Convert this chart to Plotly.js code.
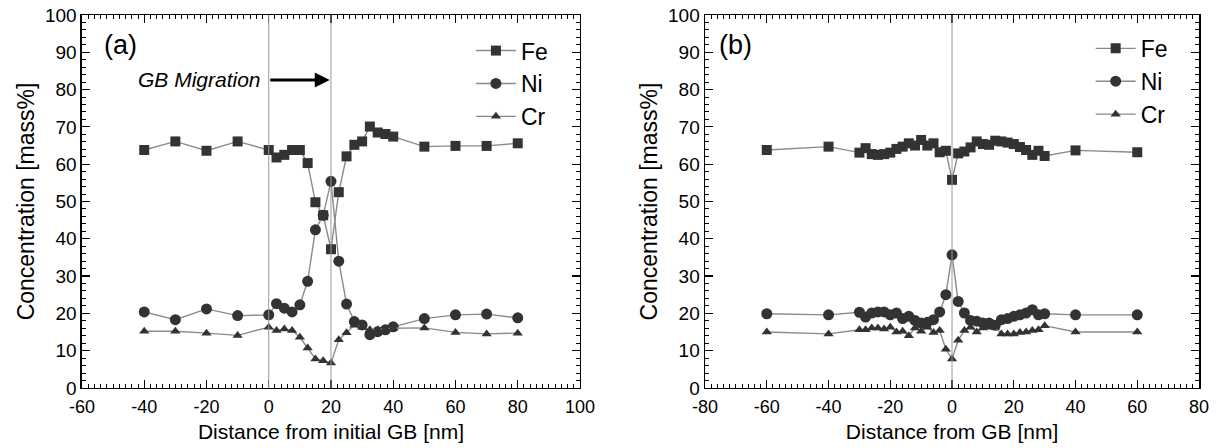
<!DOCTYPE html>
<html>
<head>
<meta charset="utf-8">
<script src="https://cdn.plot.ly/plotly-3.0.1.min.js"></script>
<style>
html,body{margin:0;padding:0;background:#fff;}
#chart{width:1220px;height:448px;}
</style>
</head>
<body>
<div id="chart"></div>
<script>
// ---------- Panel (a): distance from initial GB ----------
const xA = [-40, -30, -20, -10, 0, 2.5, 5, 7.5, 10, 12.5, 15, 17.5, 20, 22.5, 25, 27.5, 30, 32.5, 35, 37.5, 40, 50, 60, 70, 80];
const feA = [63.8, 66.1, 63.6, 66.1, 63.8, 61.8, 62.5, 63.8, 63.8, 60.3, 49.8, 46.3, 37.2, 52.5, 62.1, 65.2, 66.1, 70.1, 68.5, 68.1, 67.4, 64.7, 64.9, 64.9, 65.6];
const niA = [20.4, 18.3, 21.2, 19.4, 19.6, 22.6, 21.4, 20.4, 22.3, 28.6, 42.4, 46.3, 55.4, 34.0, 22.5, 17.8, 16.9, 14.3, 15.1, 15.6, 16.4, 18.6, 19.6, 19.8, 18.8];
const crA = [15.2, 15.2, 14.7, 14.1, 16.3, 15.4, 15.8, 15.4, 13.6, 10.7, 7.8, 7.3, 6.7, 12.9, 14.8, 16.8, 16.3, 15.6, 15.6, 15.8, 16.0, 16.1, 14.9, 14.5, 14.7];
const gbLinesA = [0, 20];

// ---------- Panel (b): distance from GB ----------
const xB = [-60, -40, -30, -28, -26, -24, -22, -20, -18, -16, -14, -12, -10, -8, -6, -4, -2, 0,
            2, 4, 6, 8, 10, 12, 14, 16, 18, 20, 22, 24, 26, 28, 30, 40, 60];
const feB = [63.8, 64.7, 63.1, 64.3, 62.7, 62.5, 62.7, 63.1, 64.1, 64.7, 65.6, 65.0, 66.5, 65.0, 65.6, 63.2, 63.6, 55.8,
             62.9, 63.4, 64.5, 66.1, 65.4, 65.2, 66.3, 66.1, 65.8, 65.4, 64.6, 63.8, 62.5, 63.6, 62.2, 63.7, 63.2];
const niB = [19.9, 19.6, 20.3, 19.0, 20.1, 20.4, 20.4, 19.6, 20.1, 18.6, 19.2, 18.1, 17.4, 17.6, 18.3, 20.4, 25.0, 35.7,
             23.2, 20.1, 18.1, 17.9, 17.4, 17.4, 16.8, 18.3, 18.6, 19.2, 19.6, 20.1, 21.0, 19.6, 19.9, 19.6, 19.6];
const crB = [15.0, 14.5, 15.6, 15.6, 16.1, 16.1, 15.8, 16.3, 15.0, 15.2, 14.0, 16.1, 15.2, 16.3, 14.9, 15.4, 10.4, 7.8,
             12.8, 15.4, 16.3, 15.0, 16.1, 16.3, 16.3, 14.5, 14.5, 14.5, 14.9, 15.0, 15.4, 15.6, 16.7, 15.0, 15.0];
const gbLinesB = [0];

const seriesNames = ['Fe', 'Ni', 'Cr'];
const symbols = ['square', 'circle', 'triangle-up'];
const sizes = [10, 11, 9];

const FONT = '"Liberation Sans", Arial, Helvetica, sans-serif';
const markerColor = '#333333';
const lineColor = '#8a8a8a';

// show plain hyphen minus signs as in the original figure
const hyphenAlias = {'\u221220': '-20', '\u221240': '-40', '\u221260': '-60', '\u221280': '-80'};

function mk(x, y, i, xa, ya, leg) {
  return {
    x: x, y: y, name: seriesNames[i], type: 'scatter', mode: 'lines+markers',
    xaxis: xa, yaxis: ya, legend: leg,
    line: {color: lineColor, width: 1.4},
    marker: {symbol: symbols[i], size: sizes[i], color: markerColor}
  };
}

const traces = [
  mk(xA, feA, 0, 'x', 'y', 'legend'),
  mk(xA, niA, 1, 'x', 'y', 'legend'),
  mk(xA, crA, 2, 'x', 'y', 'legend'),
  mk(xB, feB, 0, 'x2', 'y2', 'legend2'),
  mk(xB, niB, 1, 'x2', 'y2', 'legend2'),
  mk(xB, crB, 2, 'x2', 'y2', 'legend2')
];

function xax(domain, range, title, anchor) {
  return {
    domain: domain, range: range, anchor: anchor, dtick: 20,
    ticks: 'inside', ticklen: 8, tickwidth: 1.2, tickcolor: '#000',
    minor: {dtick: 2, ticklen: 4, ticks: 'inside', tickcolor: '#000', tickwidth: 1},
    showline: true, linecolor: '#000', linewidth: 1.5, mirror: 'ticks',
    showgrid: false, zeroline: false,
    labelalias: hyphenAlias,
    ticklabelstandoff: 2,
    tickfont: {family: FONT, size: 18, color: '#000'},
    title: {text: title, font: {family: FONT, size: 21, color: '#000'}, standoff: 8}
  };
}
function yax(domain, anchor) {
  return {
    domain: domain, range: [0, 100], anchor: anchor, dtick: 10,
    ticks: 'inside', ticklen: 8, tickwidth: 1.2, tickcolor: '#000',
    minor: {dtick: 2, ticklen: 4, ticks: 'inside', tickcolor: '#000', tickwidth: 1},
    showline: true, linecolor: '#000', linewidth: 1.5, mirror: 'ticks',
    showgrid: false, zeroline: false,
    ticklabelstandoff: 0,
    tickfont: {family: FONT, size: 19, color: '#000'},
    title: {text: 'Concentration [mass%]', font: {family: FONT, size: 23, color: '#000'}, standoff: 4}
  };
}

const yDom = [0.134, 0.9665];

const shapes = [];
gbLinesA.forEach(v => shapes.push({type: 'line', xref: 'x', yref: 'y domain', x0: v, x1: v, y0: 0, y1: 1,
  line: {color: '#9a9a9a', width: 1}}));
gbLinesB.forEach(v => shapes.push({type: 'line', xref: 'x2', yref: 'y2 domain', x0: v, x1: v, y0: 0, y1: 1,
  line: {color: '#9a9a9a', width: 1}}));

const legendStyle = {
  font: {family: FONT, size: 23, color: '#000'}, bgcolor: 'rgba(0,0,0,0)',
  xanchor: 'left', yanchor: 'top', tracegroupgap: 0, itemwidth: 40
};

const layout = {
  width: 1220, height: 448,
  margin: {l: 0, r: 0, t: 0, b: 0},
  paper_bgcolor: '#fff', plot_bgcolor: '#fff',
  font: {family: FONT, color: '#000'},
  xaxis: xax([0.0672, 0.4754], [-60, 100], 'Distance from initial GB [nm]', 'y'),
  yaxis: yax(yDom, 'x'),
  xaxis2: xax([0.5779, 0.9828], [-80, 80], 'Distance from GB [nm]', 'y2'),
  yaxis2: yax(yDom, 'x2'),
  showlegend: true,
  legend: Object.assign({x: 0.386, y: 0.935}, legendStyle),
  legend2: Object.assign({x: 0.894, y: 0.94}, legendStyle),
  shapes: shapes,
  annotations: [
    {text: '(a)', xref: 'x domain', yref: 'y domain', x: 0.04, y: 0.92, xanchor: 'left', yanchor: 'middle',
     showarrow: false, font: {family: FONT, size: 27, color: '#000'}},
    {text: '(b)', xref: 'x2 domain', yref: 'y2 domain', x: 0.025, y: 0.92, xanchor: 'left', yanchor: 'middle',
     showarrow: false, font: {family: FONT, size: 27, color: '#000'}},
    {text: '<i>GB Migration</i>', xref: 'x', yref: 'y', x: -1.8, y: 82.6, xanchor: 'right', yanchor: 'middle',
     showarrow: false, font: {family: FONT, size: 21, color: '#000'}},
    {text: '', xref: 'x', yref: 'y', x: 19.6, y: 82.6, axref: 'x', ayref: 'y', ax: 0, ay: 82.6,
     showarrow: true, arrowhead: 2, arrowsize: 1, arrowwidth: 3, arrowcolor: '#000'}
  ]
};

Plotly.newPlot('chart', traces, layout, {displayModeBar: false, staticPlot: true});
</script>
</body>
</html>
